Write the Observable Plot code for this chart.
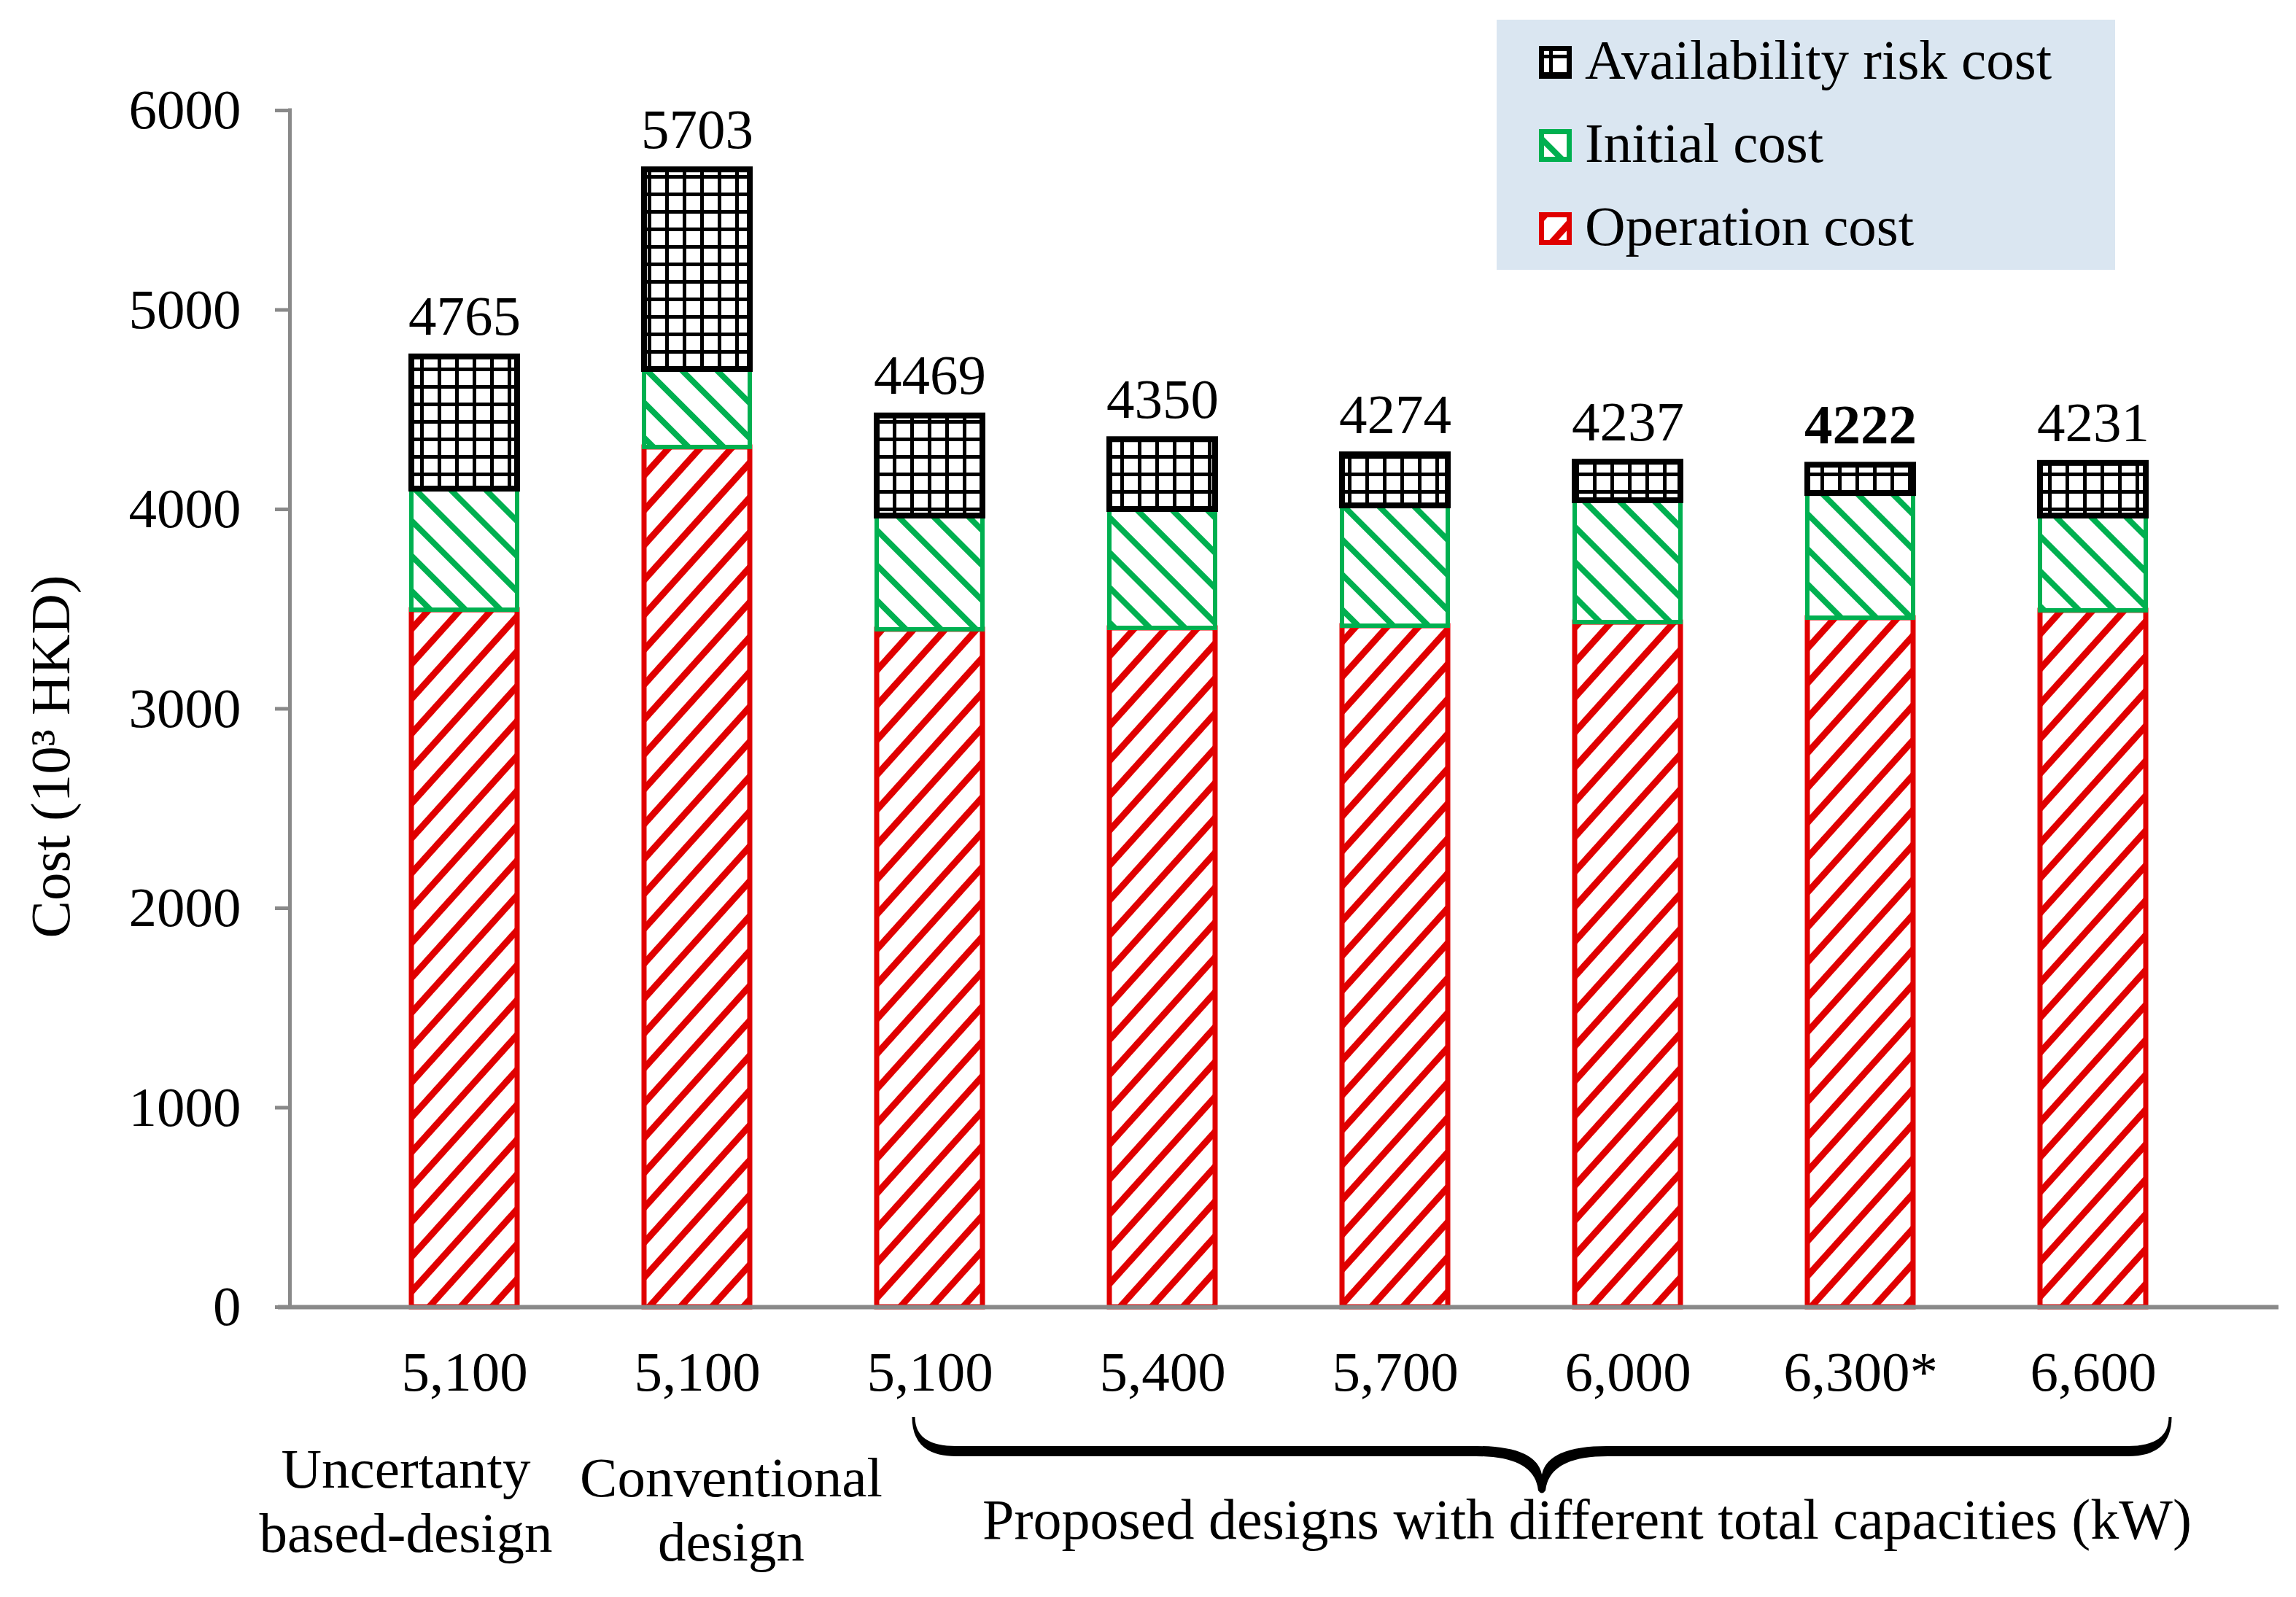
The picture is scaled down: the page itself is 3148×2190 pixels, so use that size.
<!DOCTYPE html>
<html>
<head>
<meta charset="utf-8">
<script src="https://cdn.jsdelivr.net/npm/d3@7"></script>
<script src="https://cdn.jsdelivr.net/npm/@observablehq/plot@0.6"></script>
<style>
  body { margin: 0; background: #ffffff; }
  #wrap { position: relative; width: 3148px; height: 2190px; background: #ffffff;
          font-family: "Liberation Serif", "Times New Roman", serif; }
  #legend { position: absolute; left: 2052px; top: 27px; }
</style>
</head>
<body>
<svg width="0" height="0" style="position:absolute">
  <defs>
    <pattern id="pRisk" patternUnits="userSpaceOnUse" width="24" height="24">
      <rect width="24" height="24" fill="#ffffff"/>
      <rect width="5" height="24" fill="#000000"/>
      <rect width="24" height="5" fill="#000000"/>
    </pattern>
    <pattern id="pInit" patternUnits="userSpaceOnUse" width="12" height="34" patternTransform="rotate(45)">
      <rect width="12" height="34" fill="#ffffff"/>
      <rect width="12" height="8" fill="#00b050"/>
    </pattern>
    <pattern id="pOp" patternUnits="userSpaceOnUse" width="12" height="32" patternTransform="rotate(-48)">
      <rect width="12" height="32" fill="#ffffff"/>
      <rect width="12" height="9" fill="#e00000"/>
    </pattern>
  </defs>
</svg>
<div id="wrap"><div id="legend"></div></div>
<script>
// ---- data ----
const designs = ["Uncertanty based-design", "Conventional design", "Proposed 5,100", "Proposed 5,400",
                 "Proposed 5,700", "Proposed 6,000", "Proposed 6,300", "Proposed 6,600"];
const capacityLabels = ["5,100", "5,100", "5,100", "5,400", "5,700", "6,000", "6,300*", "6,600"];
const operationCost = [3495, 4311, 3397, 3404, 3415, 3433, 3455, 3492];
const initialCost   = [607, 391, 570, 596, 603, 611, 625, 475];
const riskCost      = [663, 1001, 502, 350, 256, 193, 142, 264];
const totals        = [4765, 5703, 4469, 4350, 4274, 4237, 4222, 4231];
const yTicks = [0, 1000, 2000, 3000, 4000, 5000, 6000];
const seriesNames = ["Operation cost", "Initial cost", "Availability risk cost"];
const yLabel = "Cost (10³ HKD)";
const groupLabel1 = ["Uncertanty", "based-design"];
const groupLabel2 = ["Conventional", "design"];
const groupLabel3 = "Proposed designs with different total capacities (kW)";

// ---- styles ----
const FONT = "Liberation Serif, Times New Roman, serif";
const FS = 77;
const seriesStyle = [
  {fill: "url(#pOp)", stroke: "#e00000", sw: 7},
  {fill: "url(#pInit)", stroke: "#00b050", sw: 6},
  {fill: "url(#pRisk)", stroke: "#000000", sw: 8}
];
const seriesValues = [operationCost, initialCost, riskCost];

let base = designs.map(() => 0);
const barMarks = seriesValues.map((vals, s) => {
  const rows = designs.map((d, i) => ({design: d, series: seriesNames[s], y1: base[i], y2: base[i] + vals[i]}));
  base = base.map((b, i) => b + vals[i]);
  const st = seriesStyle[s];
  return Plot.barY(rows, {x: "design", y1: "y1", y2: "y2", fill: st.fill, stroke: st.stroke, strokeWidth: st.sw});
});

const minTotal = d3.min(totals);
const totalRows = designs.map((d, i) => ({design: d, total: totals[i], label: String(totals[i])}));

const chart = Plot.plot({
  width: 3148,
  height: 2190,
  marginLeft: 398,
  marginRight: 24,
  marginTop: 151,
  marginBottom: 398,
  style: {fontFamily: FONT, fontSize: FS + "px", background: "transparent", color: "black", overflow: "visible"},
  x: {domain: designs, paddingInner: 0.547, paddingOuter: 0.533, align: 0.477, axis: null},
  y: {domain: [0, 6000], axis: null},
  marks: [
    ...barMarks,
    Plot.ruleY([0], {stroke: "#898989", strokeWidth: 6, insetLeft: -17}),
    Plot.axisY(yTicks, {tickSize: 21, tickPadding: 47, stroke: "#898989", strokeWidth: 5, fill: "black",
                        fontSize: FS, tickFormat: d => String(d), label: null}),
    Plot.axisX({tickSize: 0, tickPadding: 60, fill: "black", fontSize: FS, label: null,
                tickFormat: d => capacityLabels[designs.indexOf(d)]}),
    Plot.text(totalRows.filter(r => r.total !== minTotal),
              {x: "design", y: "total", text: "label", dy: -30, lineAnchor: "bottom", fontSize: FS, fill: "black"}),
    Plot.text(totalRows.filter(r => r.total === minTotal),
              {x: "design", y: "total", text: "label", dy: -30, lineAnchor: "bottom", fontSize: FS, fill: "black", fontWeight: "bold"})
  ]
});

document.getElementById("wrap").appendChild(chart);

// ---- annotations placed through the chart's scales ----
const xs = chart.scale("x");
const ys = chart.scale("y");
const bw = xs.bandwidth;
const cx = d => xs.apply(d) + bw / 2;
const svg = d3.select(chart);
const g = svg.append("g").attr("font-family", FONT).attr("font-size", FS).attr("fill", "black");

// y axis line
g.append("line")
  .attr("x1", 397.5).attr("x2", 397.5)
  .attr("y1", ys.apply(6000) - 2.5).attr("y2", ys.apply(0))
  .attr("stroke", "#898989").attr("stroke-width", 5);

// y axis title
g.append("text")
  .attr("transform", `translate(95,${(ys.apply(0) + ys.apply(6000)) / 2 + 66}) rotate(-90)`)
  .attr("text-anchor", "middle")
  .text(yLabel);

// group labels
const y0 = ys.apply(0);
g.append("text").attr("x", cx(designs[0]) - 80).attr("y", y0 + 248).attr("text-anchor", "middle").text(groupLabel1[0]);
g.append("text").attr("x", cx(designs[0]) - 80).attr("y", y0 + 336).attr("text-anchor", "middle").text(groupLabel1[1]);
g.append("text").attr("x", cx(designs[1]) + 47).attr("y", y0 + 260).attr("text-anchor", "middle").text(groupLabel2[0]);
g.append("text").attr("x", cx(designs[1]) + 47).attr("y", y0 + 348).attr("text-anchor", "middle").text(groupLabel2[1]);

// brace
const L = cx(designs[2]) - 24, R = cx(designs[7]) + 108, C = (L + R) / 2;
const T = y0 + 151, M = y0 + 198, B = y0 + 256;
const bracePath = [
  `M${L},${T}`,
  `Q${L},${M + 7} ${L + 60},${M + 7}`,
  `L${C - 90},${M + 7}`,
  `Q${C - 10},${M + 7} ${C - 5},${B - 4}`,
  `Q${C},${B + 3} ${C + 5},${B - 4}`,
  `Q${C + 10},${M + 7} ${C + 90},${M + 7}`,
  `L${R - 60},${M + 7}`,
  `Q${R},${M + 7} ${R},${T}`,
  `L${R - 4},${T}`,
  `Q${R - 4},${M - 7} ${R - 60},${M - 7}`,
  `L${C + 90},${M - 7}`,
  `Q${C + 8},${M - 7} ${C},${B - 26}`,
  `Q${C - 8},${M - 7} ${C - 90},${M - 7}`,
  `L${L + 60},${M - 7}`,
  `Q${L + 4},${M - 7} ${L + 4},${T}`,
  "Z"
].join(" ");
g.append("path").attr("d", bracePath).attr("fill", "black");
g.append("text").attr("x", C + 62).attr("y", y0 + 318).attr("text-anchor", "middle")
  .attr("font-size", 78).text(groupLabel3);

// ---- legend ----
const legendOrder = [2, 1, 0];
const leg = d3.select("#legend").append("svg").attr("width", 848).attr("height", 343)
  .attr("font-family", FONT).attr("font-size", FS);
leg.append("rect").attr("width", 848).attr("height", 343).attr("fill", "#dae6f1");
legendOrder.forEach((s, k) => {
  const st = seriesStyle[s];
  const top = 36 + k * 114;
  leg.append("rect").attr("x", 61.5).attr("y", top + 3.5).attr("width", 38).attr("height", 38)
    .attr("fill", st.fill).attr("stroke", st.stroke).attr("stroke-width", 7);
  leg.append("text").attr("x", 121).attr("y", top + 45).attr("fill", "black").text(seriesNames[s]);
});
</script>
</body>
</html>
